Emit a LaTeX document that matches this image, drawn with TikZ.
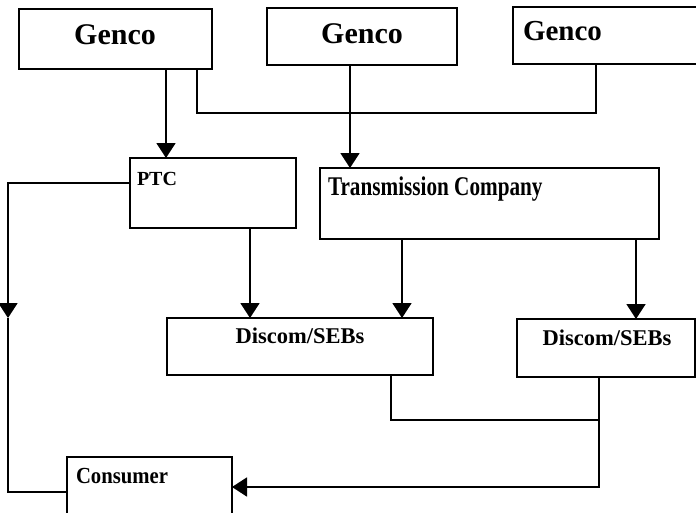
\documentclass[tikz,border=0pt]{standalone}
\usepackage{fontspec}
\setmainfont{Liberation Serif}
\usetikzlibrary{arrows.meta}

\tikzset{
  box/.style={draw, line width=1.8pt, anchor=north west, inner sep=0pt, outer sep=0pt},
  lbl/.style={inner sep=0pt, outer sep=0pt, font=\bfseries},
  wire/.style={line width=1.8pt},
  arr/.style={wire, -{Triangle[length=15pt,width=19pt]}},
}

\begin{document}
\begin{tikzpicture}[x=1pt, y=-1pt]
  \useasboundingbox (0,0) rectangle (696,512);
  \clip (0,0) rectangle (696,512);

  % generating companies
  \node[box, minimum width=193pt, minimum height=60pt] (g1) at (19,9) {};
  \node[box, minimum width=190pt, minimum height=57pt] (g2) at (267,8) {};
  \node[box, minimum width=192pt, minimum height=57pt] (g3) at (513,7) {};

  % trading and transmission
  \node[box, minimum width=166pt, minimum height=70pt] (ptc) at (130,158) {};
  \node[box, minimum width=339pt, minimum height=71pt] (tc) at (320,168) {};

  % distribution
  \node[box, minimum width=266pt, minimum height=57pt] (d1) at (167,318) {};
  \node[box, minimum width=178pt, minimum height=58pt] (d2) at (517,319) {};

  % end user
  \node[box, minimum width=165pt, minimum height=70pt] (cons) at (67,457) {};

  % labels
  \node[lbl, anchor=base, font=\bfseries\fontsize{30}{30}\selectfont] (tg1) at (115,44) {Genco};
  \node[lbl, anchor=base, font=\bfseries\fontsize{30}{30}\selectfont] (tg2) at (362,43) {Genco};
  \node[lbl, anchor=base west, font=\bfseries\fontsize{29}{29}\selectfont] (tg3) at (523,40) {Genco};
  \node[lbl, anchor=base west, font=\bfseries\fontsize{20}{20}\selectfont] (tptc) at (137,185) {PTC};
  \node[lbl, anchor=base west, font=\bfseries\fontsize{27}{27}\selectfont] (ttc) at (328,195) {\scalebox{0.785}[1]{Transmission Company}};
  \node[lbl, anchor=base, font=\bfseries\fontsize{22.5}{22.5}\selectfont] (td1) at (300,343) {Discom/SEBs};
  \node[lbl, anchor=base, font=\bfseries\fontsize{22.5}{22.5}\selectfont] (td2) at (607,345) {Discom/SEBs};
  \node[lbl, anchor=base west, font=\bfseries\fontsize{23}{23}\selectfont] (tcons) at (76,483) {\scalebox{0.9}[1]{Consumer}};

  % helper points on the wires
  \coordinate (down) at (8,318);
  \coordinate (join) at ([xshift=82pt, yshift=-43pt]d2.south west);

  % Genco links
  \draw[arr] ([xshift=147pt]g1.south west) -- ([xshift=36pt]ptc.north west);
  \draw[wire] ([xshift=178pt]g1.south west) -- ++(0,44) -| ([xshift=83pt]g3.south west);
  \draw[arr] ([xshift=83pt]g2.south west) -- ([xshift=30pt]tc.north west);

  % PTC to consumer, routed along the left side
  \draw[arr] ([yshift=-25pt]ptc.north west) -| (down);
  \draw[wire] (down) |- ([yshift=-35pt]cons.north west);

  % feeds into the distribution companies
  \draw[arr] ([xshift=120pt]ptc.south west) -- ([xshift=83pt]d1.north west);
  \draw[arr] ([xshift=82pt]tc.south west) -- ([xshift=235pt]d1.north west);
  \draw[arr] ([xshift=316pt]tc.south west) -- ([xshift=119pt]d2.north west);

  % distribution to consumer
  \draw[wire] ([xshift=224pt]d1.south west) |- (join);
  \draw[arr] ([xshift=82pt]d2.south west) |- ([yshift=-30pt]cons.north east);
\end{tikzpicture}
\end{document}
